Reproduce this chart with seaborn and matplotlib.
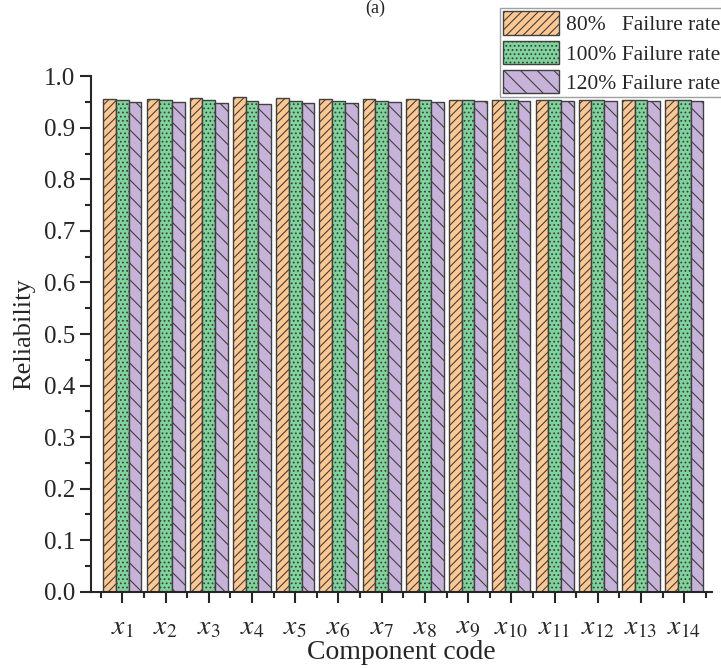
import matplotlib
matplotlib.use("Agg")
import matplotlib.pyplot as plt
import seaborn as sns
import pandas as pd
import numpy as np
from matplotlib.ticker import MultipleLocator, FixedLocator

components = [f"$x_{{{i}}}$" for i in range(1, 15)]
series_names = ["80%   Failure rate", "100% Failure rate", "120% Failure rate"]
rate_80 = [0.956, 0.955, 0.957, 0.959, 0.958, 0.956, 0.956, 0.956, 0.954, 0.954, 0.954, 0.954, 0.954, 0.953]
rate_100 = [0.953, 0.953, 0.953, 0.952, 0.952, 0.952, 0.952, 0.953, 0.953, 0.953, 0.953, 0.953, 0.953, 0.953]
rate_120 = [0.950, 0.950, 0.948, 0.946, 0.947, 0.948, 0.949, 0.949, 0.951, 0.951, 0.951, 0.951, 0.951, 0.951]
colors = ["#FFC893", "#7FD49C", "#C7B3DA"]
hatches = ["////", "....", "\\\\"]

df = pd.DataFrame({
    "Component": components * 3,
    "Reliability": rate_80 + rate_100 + rate_120,
    "Series": [series_names[0]] * 14 + [series_names[1]] * 14 + [series_names[2]] * 14,
})

sns.set_style("ticks")
plt.rcParams["font.family"] = ["Liberation Serif", "DejaVu Serif"]
plt.rcParams["mathtext.fontset"] = "stix"
plt.rcParams["hatch.linewidth"] = 0.8

fig = plt.figure(figsize=(7.21, 6.68), dpi=100)
ax = fig.add_axes([0.126, 0.114, 0.862, 0.772])

sns.barplot(data=df, x="Component", y="Reliability", hue="Series",
            palette=colors, width=0.88, gap=0, ax=ax, legend=False,
            edgecolor="#404040", linewidth=1.0, saturation=1)

for cont, h, c in zip(ax.containers, hatches, colors):
    for p in cont.patches:
        p.set_hatch(h)
        if h == "....":
            try:
                p.set_hatchcolor("#6cc488")
            except AttributeError:
                pass

ax.set_ylim(0, 1.0)
ax.set_xlim(-0.73, 13.65)
ax.yaxis.set_minor_locator(MultipleLocator(0.05))
ax.xaxis.set_minor_locator(FixedLocator(np.arange(-0.5, 14, 1.0)))
ax.set_yticks(np.round(np.arange(0, 1.01, 0.1), 1))
ax.set_yticklabels([f"{v:.1f}" for v in np.arange(0, 1.01, 0.1)])
ax.tick_params(axis="both", which="major", direction="out", length=8, width=1.5, labelsize=18)
ax.tick_params(axis="both", which="minor", direction="out", length=4, width=1.5)
ax.tick_params(axis="x", which="major", labelsize=20, pad=9)
for s in ["left", "bottom"]:
    ax.spines[s].set_linewidth(1.5)
sns.despine(ax=ax)

ax.set_xlabel("Component code", fontsize=20, labelpad=0)
ax.set_ylabel("Reliability", fontsize=19, labelpad=6)

leg = ax.legend(handles=ax.containers, labels=series_names, loc="upper right",
                bbox_to_anchor=(1.003, 0.988), bbox_transform=fig.transFigure,
                fontsize=15.5, frameon=True, fancybox=False, edgecolor="#888888",
                handlelength=2.6, handleheight=1.3, borderpad=0.15,
                labelspacing=0.25, handletextpad=0.3, borderaxespad=0)
leg.get_frame().set_linewidth(1.0)

fig.text(0.52, 1.0, "(a)", ha="center", va="top", fontsize=13)

fig.savefig("out.png", dpi=100)
